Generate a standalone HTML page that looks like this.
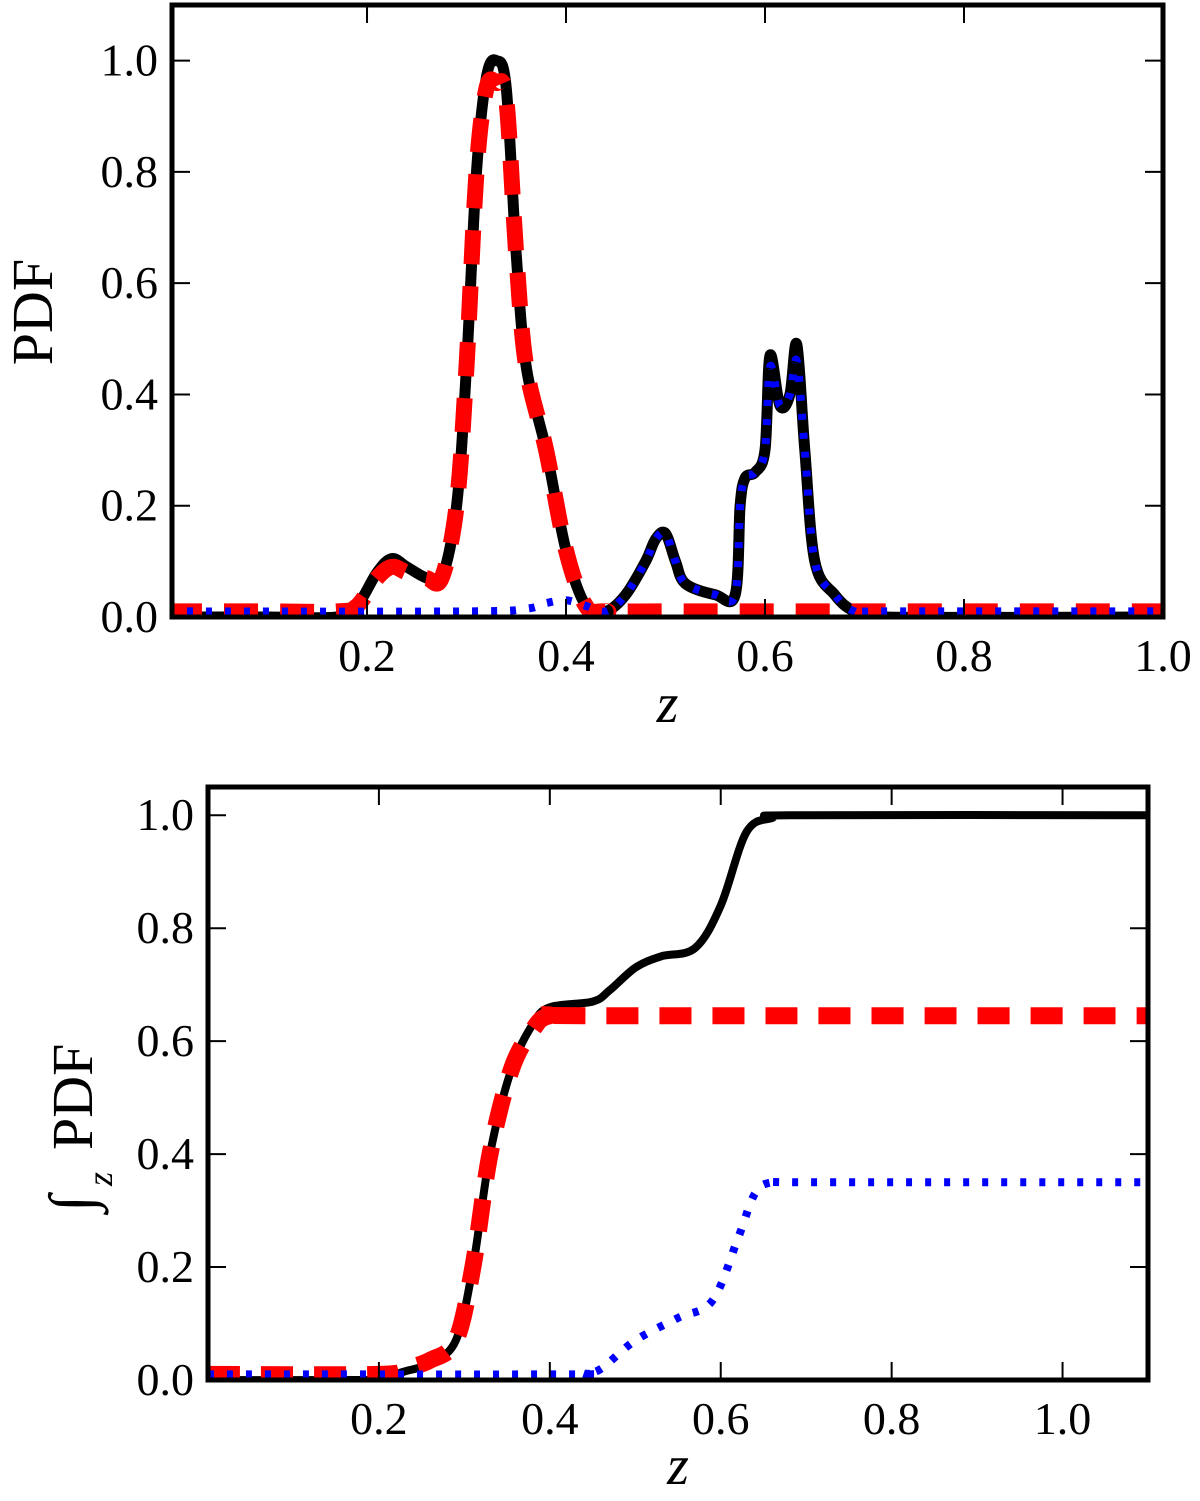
<!DOCTYPE html>
<html><head><meta charset="utf-8"><style>
body{margin:0;background:#fff}
svg text{font-family:"Liberation Serif",serif;fill:#000}
</style></head><body>
<svg id="fig" width="1200" height="1496" viewBox="0 0 1200 1496" xmlns="http://www.w3.org/2000/svg"></svg>
<script>
const pdfZ =   [0,0.10,0.17,0.19,0.21,0.225,0.24,0.26,0.275,0.29,0.30,0.31,0.32,0.33,0.34,0.35,0.36,0.38,0.40,0.42,0.44,0.46,0.48,0.49,0.50,0.51,0.52,0.55,0.57,0.575,0.58,0.59,0.60,0.605,0.615,0.625,0.632,0.64,0.65,0.67,0.69,0.72,1.0];
const pdfAll = [0,0,0,0.02,0.08,0.105,0.09,0.07,0.07,0.2,0.45,0.8,0.97,1.0,0.95,0.65,0.45,0.3,0.12,0.02,0.01,0.04,0.1,0.14,0.15,0.1,0.06,0.04,0.04,0.2,0.25,0.26,0.3,0.47,0.38,0.4,0.49,0.3,0.1,0.04,0.01,0,0];
const redZ =   [0,0.10,0.17,0.19,0.21,0.225,0.24,0.26,0.275,0.29,0.30,0.31,0.32,0.33,0.34,0.35,0.36,0.38,0.40,0.42,0.44,0.50,1.0];
const pdfRed = [0.01,0.01,0.01,0.02,0.07,0.09,0.08,0.07,0.07,0.2,0.45,0.8,0.95,0.96,0.93,0.65,0.45,0.3,0.12,0.02,0.01,0.01,0.01];
const blueZ =  [0,0.30,0.36,0.38,0.40,0.42,0.44,0.46,0.48,0.49,0.50,0.51,0.52,0.55,0.57,0.575,0.58,0.59,0.60,0.605,0.615,0.625,0.632,0.64,0.65,0.67,0.69,0.72,1.0];
const pdfBlue =[0.01,0.01,0.015,0.025,0.03,0.02,0.01,0.04,0.1,0.14,0.15,0.1,0.06,0.04,0.04,0.2,0.25,0.26,0.3,0.45,0.38,0.4,0.46,0.3,0.1,0.04,0.01,0.01,0.01];
const cumZ =   [0,0.18,0.2,0.23,0.26,0.29,0.31,0.33,0.355,0.38,0.40,0.45,0.47,0.50,0.53,0.57,0.60,0.63,0.66,0.69,1.1];
const cumAll = [0,0,0.003,0.015,0.03,0.07,0.2,0.4,0.55,0.63,0.66,0.67,0.69,0.73,0.75,0.765,0.84,0.97,0.995,1.0,1.0];
const redCZ =  [0,0.20,0.23,0.26,0.29,0.31,0.33,0.355,0.38,0.40,0.45,1.1];
const cumRed = [0.01,0.01,0.02,0.035,0.07,0.2,0.4,0.55,0.62,0.645,0.645,0.645];
const blueCZ = [0,0.42,0.44,0.46,0.50,0.55,0.59,0.62,0.64,0.66,0.70,1.1];
const cumBlue =[0.01,0.01,0.012,0.02,0.07,0.11,0.14,0.25,0.33,0.35,0.35,0.35];
const yTicks = [0,0.2,0.4,0.6,0.8,1.0];
const yTickLabels = ["0.0","0.2","0.4","0.6","0.8","1.0"];
const xTicks = [0.2,0.4,0.6,0.8,1.0];
const xTickLabels = ["0.2","0.4","0.6","0.8","1.0"];

const NS="http://www.w3.org/2000/svg";
const svg=document.getElementById('fig');
function mk(t,a,p){const e=document.createElementNS(NS,t);for(const k in a)e.setAttribute(k,a[k]);(p||svg).appendChild(e);return e;}
function smooth(P){
  let d='M'+P[0][0].toFixed(1)+','+P[0][1].toFixed(1);
  for(let i=0;i<P.length-1;i++){
    const p0=P[i-1]||P[i],p1=P[i],p2=P[i+1],p3=P[i+2]||P[i+1];
    const c1=[p1[0]+(p2[0]-p0[0])/6,p1[1]+(p2[1]-p0[1])/6];
    const c2=[p2[0]-(p3[0]-p1[0])/6,p2[1]-(p3[1]-p1[1])/6];
    d+=' C'+c1.map(v=>v.toFixed(1))+' '+c2.map(v=>v.toFixed(1))+' '+p2.map(v=>v.toFixed(1));
  }
  return d;
}

function panel(cfg){
  const g=mk('g',{});
  
  
  const sx=z=>cfg.L+(z-cfg.x0)/(cfg.x1-cfg.x0)*(cfg.R-cfg.L);
  const sy=v=>cfg.B-(v-cfg.y0)/(cfg.y1-cfg.y0)*(cfg.B-cfg.T);
  const cp=mk('clipPath',{id:'c'+cfg.name},g);
  mk('rect',{x:cfg.L,y:cfg.T,width:cfg.R-cfg.L,height:cfg.B-cfg.T},cp);
  const lg=mk('g',{'clip-path':'url(#c'+cfg.name+')'},g);
  cfg.series.forEach(s=>{
    const d=smooth(s.z.map((z,i)=>[sx(z),sy(s.v[i])]));
    const p=mk('path',{d:d,fill:'none',stroke:s.color,'stroke-width':s.w,'stroke-dasharray':s.dash||'none','stroke-linejoin':'round','stroke-linecap':'butt'},lg);
    
    
  });
  yTicks.forEach((v,i)=>{
    if(v>cfg.y1)return;
    const y=sy(v);
    mk('line',{x1:cfg.L,x2:cfg.L+18,y1:y,y2:y,stroke:'#000','stroke-width':2},g);
    mk('line',{x1:cfg.R-18,x2:cfg.R,y1:y,y2:y,stroke:'#000','stroke-width':2},g);
    const t=mk('text',{x:cfg.L-14,y:y+15,'text-anchor':'end','font-size':46},g);
    t.textContent=yTickLabels[i];
    
    
  });
  xTicks.forEach((v,i)=>{
    const x=sx(v);
    mk('line',{x1:x,x2:x,y1:cfg.B,y2:cfg.B-18,stroke:'#000','stroke-width':2},g);
    mk('line',{x1:x,x2:x,y1:cfg.T,y2:cfg.T+18,stroke:'#000','stroke-width':2},g);
    const t=mk('text',{x:x,y:cfg.B+54,'text-anchor':'middle','font-size':46},g);
    t.textContent=xTickLabels[i];
    
    
  });
  mk('rect',{x:cfg.L,y:cfg.T,width:cfg.R-cfg.L,height:cfg.B-cfg.T,fill:'none',stroke:'#000','stroke-width':5},g);
  const xl=mk('text',{x:(cfg.L+cfg.R)/2,y:cfg.xlY,'text-anchor':'middle','font-size':56,'font-style':'italic'},g);
  xl.textContent='z';
  
  
  return {g,sx,sy};
}

const topPanel=panel({name:'pdf-panel',L:172,R:1163,T:5,B:617,x0:0.004,x1:1.0,y0:0,y1:1.1,xlY:722,
  series:[
    {name:'pdf-total-line',z:pdfZ,v:pdfAll,color:'#000',w:11},
    {name:'pdf-red-dashed',z:redZ,v:pdfRed,color:'#f00',w:16,dash:'34 22'},
    {name:'pdf-blue-dotted',z:blueZ,v:pdfBlue,color:'#00f',w:8,dash:'6 13'}
  ]});
let t=mk('text',{x:0,y:0,'text-anchor':'middle','font-size':58,transform:'translate(52,312) rotate(-90)'});
t.textContent='PDF';



const botPanel=panel({name:'cdf-panel',L:208,R:1148,T:787,B:1380,x0:0.0,x1:1.1,y0:0,y1:1.05,xlY:1484,
  series:[
    {name:'cdf-total-line',z:cumZ,v:cumAll,color:'#000',w:8},
    {name:'cdf-red-dashed',z:redCZ,v:cumRed,color:'#f00',w:17,dash:'32 21'},
    {name:'cdf-blue-dotted',z:blueCZ,v:cumBlue,color:'#00f',w:8,dash:'6 13'}
  ]});
const yl=mk('g',{transform:'translate(92,1100) rotate(-90)'});


t=mk('text',{x:-112,y:0,'font-size':62,'font-style':'italic'},yl);t.textContent='∫';
t=mk('text',{x:-86,y:20,'font-size':36,'font-style':'italic'},yl);t.textContent='z';
t=mk('text',{x:-50,y:0,'font-size':58},yl);t.textContent='PDF';
</script>
</body></html>
